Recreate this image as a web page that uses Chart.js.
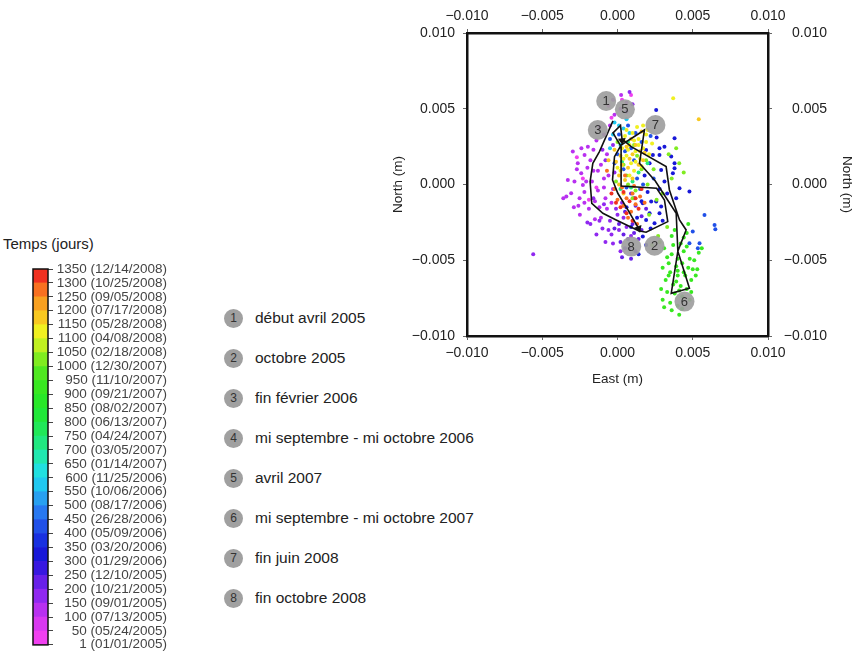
<!DOCTYPE html>
<html>
<head>
<meta charset="utf-8">
<script src="https://cdn.jsdelivr.net/npm/chart.js@4.4.1/dist/chart.umd.min.js"></script>
<style>
  body { margin: 0; width: 856px; height: 656px; background: #fff; position: relative; overflow: hidden;
         font-family: 'Liberation Sans', Arial, sans-serif; }
  canvas { position: absolute; }
  #cbTitle { position: absolute; left: 3px; top: 235px; font-size: 15px; color: #222; white-space: nowrap; }
  .leg { position: absolute; left: 224px; height: 20px; display: flex; align-items: center;
         font-size: 15.5px; color: #222; white-space: nowrap; }
  .leg .num { width: 19px; height: 19px; border-radius: 50%; background: #a0a0a0; color: #333;
              font-size: 12px; display: flex; align-items: center; justify-content: center; margin-right: 12px; }
</style>
</head>
<body>
<div id="cbTitle">Temps (jours)</div>
<canvas id="cb" width="167" height="400" style="left:0;top:255px;width:167px;height:400px"></canvas>
<canvas id="gps" width="476" height="400" style="left:380px;top:0;width:476px;height:400px"></canvas>
<div id="legend"></div>
<script>
// ---- colour scale (days since 01/01/2005) ----
const bandEdges = [0, 50, 100, 150, 200, 250, 300, 350, 400, 450, 500, 550, 600, 650, 700,
                   750, 800, 850, 900, 950, 1000, 1050, 1100, 1150, 1200, 1250, 1300, 1350];
const bandColors = ['#f040f0', '#d838f0', '#b830f0', '#9028f0', '#6820e8', '#3818e0', '#1818d8',
                    '#1830e0', '#2050e8', '#2878f0', '#28a0f0', '#20c8f0', '#20e0e0', '#20e8b0',
                    '#20e880', '#20e858', '#20e838', '#28e828', '#38e820', '#50e820', '#80ec20',
                    '#c0f020', '#f0f020', '#f8c820', '#f8a020', '#f87020', '#f03020'];
const tickDays = [1, 50, 100, 150, 200, 250, 300, 350, 400, 450, 500, 550, 600, 650, 700,
                  750, 800, 850, 900, 950, 1000, 1050, 1100, 1150, 1200, 1250, 1300, 1350];
const tickDates = ['01/01/2005', '05/24/2005', '07/13/2005', '09/01/2005', '10/21/2005', '12/10/2005',
                   '01/29/2006', '03/20/2006', '05/09/2006', '26/28/2006', '08/17/2006', '10/06/2006',
                   '11/25/2006', '01/14/2007', '03/05/2007', '04/24/2007', '06/13/2007', '08/02/2007',
                   '09/21/2007', '11/10/2007', '12/30/2007', '02/18/2008', '04/08/2008', '05/28/2008',
                   '07/17/2008', '09/05/2008', '10/25/2008', '12/14/2008'];

// ---- daily GPS positions (East, North in mm), grouped by day ----
const dotDays = [25, 120, 190, 230, 320, 420, 580, 700, 900, 1000, 1120, 1190, 1280, 1330];
const d025 = [[-0.6,5.2],[0.3,5.6],[-2.7,1.8],[-1.9,-1.0],[-0.4,4.4],[-2.3,0.4],[0.9,5.9],[-1.4,-0.2]];
const d120 = [[-2.97,2.17],[-2.64,1.40],[-2.19,1.95],[-1.97,2.5],[-2.41,0.74],[-2.08,0.19],[-2.86,0.19],
  [-2.3,-0.03],[-3.08,-0.58],[-2.52,-0.91],[-3.4,-0.8],[-2.9,-1.5],[-2.5,-2.0],[-1.9,-1.6],[-1.5,-2.3],
  [-1.2,-1.5],[-0.8,-0.9],[-1.3,-0.4],[-1.6,0.9],[-1.1,1.3],[-0.7,2.0],[-1.4,2.9],[-0.9,3.3],[-0.5,3.9],
  [-0.2,4.6],[0.2,5.0],[0.6,5.4],[0.24,5.9],[-0.3,5.6],[-1.2,3.8],[-2.7,1.0],[-3.3,0.3],[-2.2,-1.2],
  [-3.6,-0.9],[-1.7,0.2],[-0.9,-0.2],[-2.4,2.4],[-0.6,0.6],[-1.8,1.6],[-2.2,-0.5],[-1.5,-1.1],
  [-0.4,-1.2],[-0.9,0.4],[-1.1,-2.2],[-2.6,-1.4],[-0.3,-0.3],[-1.6,2.3],[-2.0,1.1],[-0.7,-1.6],[-1.3,0.9]];
const d190 = [[-2.0,-2.5],[-1.4,-3.3],[-0.8,-3.8],[-1.8,-2.6],[-1.0,-2.9],[-0.4,-3.3],[0.1,-3.0],[-5.6,-4.6],
  [-0.3,2.6],[-1.0,2.3],[-0.1,-1.6],[0.4,-2.2],[-0.5,-2.4],[0.3,-1.2],[-0.2,0.8],[0.6,4.8],[1.0,5.3],
  [0.8,6.1],[-0.8,1.6],[-1.6,-0.9],[-0.6,-3.0],[0.0,-2.0],[-1.2,-2.4],[0.6,-2.8],[-0.3,-3.9],[0.2,-4.4],
  [0.9,-3.4],[-0.9,-1.3]];
const d230 = [[0.5,-4.2],[0.3,-4.8],[0.9,-4.9],[1.2,-4.4],[0.7,-3.6],[1.0,-2.6],[0.5,-1.8],[1.2,-1.4],
  [0.9,-0.6],[-0.2,-2.9],[1.6,-2.1],[0.2,-3.8],[1.4,-3.6],[0.8,-4.2],[1.6,-3.0],[0.4,-3.3],[1.9,-1.6],
  [1.1,-3.2],[0.1,-2.6]];
const d320 = [[2.57,4.92],[3.79,3.05],[3.12,2.5],[2.79,2.39],[1.9,2.28],[2.79,1.95],[2.35,1.95],[3.57,1.84],
  [3.79,1.4],[3.68,0.74],[3.79,1.07],[2.9,0.96],[2.13,1.4],[3.12,0.19],[4.12,-0.25],[4.78,-0.47],
  [2.24,-1.13],[2.57,-1.13],[3.9,-0.91],[1.68,-1.24],[2.13,-1.9],[2.79,-1.9],[1.9,-2.34],[2.46,-2.56],
  [1.68,-3.44],[1.9,-3.99],[2.9,-1.46],[0.9,-2.8],[1.3,-2.2],[1.6,-1.1],[0.6,-1.5],[2.2,-2.9],[1.1,-0.9],
  [2.0,-0.5],[2.8,-0.3],[1.4,-4.6],[1.8,0.6],[3.3,-0.6],[2.6,3.1],[3.0,-2.4]];
const d420 = [[5.78,-2.01],[6.45,-2.67],[6.5,-2.95],[5.0,-3.11],[4.78,-3.88],[5.45,-3.88],[5.34,-4.21],
  [1.2,3.4],[1.6,2.8],[0.5,2.2],[1.1,1.6],[2.4,0.4],[1.5,-0.3],[0.4,1.0],[1.3,0.4],[0.1,3.3],[0.7,3.9],
  [2.2,3.2],[-0.5,3.0],[0.0,2.0],[1.7,0.0],[0.9,2.4],[-0.2,1.4],[0.6,-0.2]];
const d580 = [[0.1,3.9],[0.4,3.7],[-0.3,3.3],[0.6,4.3],[-0.2,4.1],[0.8,3.4],[0.2,2.6],[-0.5,2.4]];
const d700 = [[0.7,2.8],[1.0,0.2],[0.3,1.5],[1.4,0.8],[0.2,-0.3],[2.0,1.4],[0.9,-0.2]];
const d900 = [[3.6,-4.6],[4.0,-4.9],[4.4,-4.4],[4.8,-4.9],[3.4,-5.2],[3.9,-5.4],[4.3,-5.2],[4.7,-5.5],
  [5.1,-5.0],[3.5,-5.8],[4.0,-6.0],[4.5,-6.0],[4.9,-6.3],[3.2,-6.3],[3.7,-6.6],[4.2,-6.7],[4.6,-6.9],
  [5.2,-6.0],[3.3,-7.1],[3.8,-7.2],[4.3,-7.4],[3.0,-7.6],[3.5,-7.8],[4.0,-8.0],[4.1,-8.6],[3.1,-8.1],
  [4.8,-7.6],[5.3,-5.6],[3.0,-5.5],[4.2,-3.9],[4.6,-3.2],[5.4,-4.5],[3.6,-3.4],[4.0,-5.7],[3.7,-4.0],
  [4.4,-5.8],[3.9,-6.4],[4.1,-7.0],[3.4,-6.0],[4.6,-4.1],[3.3,-4.8],[5.0,-5.6],[4.9,-7.1],[3.6,-8.3],
  [2.9,-6.9],[4.3,-8.2],[3.8,-3.0],[4.7,-2.6],[3.1,-4.2],[5.6,-4.2],[4.4,-3.5]];
const d1000 = [[3.4,2.0],[3.9,2.4],[4.1,1.4],[3.0,-0.6],[2.7,-3.4],[2.3,-4.0],[1.1,2.6],[0.6,0.6],
  [1.6,1.0],[-0.1,0.2],[2.0,0.0],[1.2,-0.4],[3.3,-2.8],[2.8,-3.8],[0.4,1.3],[1.9,1.6],[1.0,-0.9],
  [0.0,2.8],[2.4,1.0],[1.3,1.9],[0.7,0.0],[2.6,-1.0],[3.6,0.4],[4.4,0.8],[2.1,-2.0]];
const d1120 = [[1.0,3.4],[1.4,3.0],[0.8,2.6],[1.2,2.2],[0.6,1.9],[1.7,2.4],[1.9,3.3],[0.9,1.4],[1.5,1.7],
  [0.3,2.4],[2.1,2.0],[1.1,0.9],[0.5,3.2],[1.3,3.8],[2.3,2.7],[0.0,1.1],[3.7,5.7],[0.7,2.3],[1.1,2.9],
  [1.6,1.2],[0.4,1.7],[1.9,2.8],[0.8,0.6],[1.4,2.6],[0.2,0.9],[1.2,1.5],[2.0,3.6],[1.7,3.9],[0.6,3.6]];
const d1190 = [[0.4,2.9],[1.0,2.0],[1.6,3.5],[0.2,1.9],[0.7,1.1],[1.4,1.3],[-0.2,2.3],[0.9,3.0],[1.8,2.1],
  [0.5,0.3],[5.4,4.3],[-0.6,1.6],[0.1,0.6],[0.8,1.7],[1.2,2.6],[0.3,1.3],[1.5,2.2],[-0.1,1.5],[0.6,2.5],
  [1.0,0.4],[0.1,0.0],[1.7,1.6],[0.4,-0.6]];
const d1280 = [[0.6,-0.9],[1.2,-1.3],[0.3,-0.2],[0.9,-1.8],[1.5,-0.8],[0.0,-1.0],[1.1,-0.1],[0.7,-2.2],
  [-0.7,0.9],[1.3,-2.6],[0.4,-1.4],[1.0,-0.6],[-0.2,-0.3],[1.8,-1.2],[0.5,0.6]];
const d1330 = [[0.8,-1.1],[1.4,-1.6],[0.4,-0.5],[1.0,-2.4],[0.2,-1.5],[1.6,-0.3],[-0.4,-0.6],[0.6,-1.9],
  [1.2,-0.9],[-0.1,-1.2]];
const dotSets = [d025, d120, d190, d230, d320, d420, d580, d700, d900, d1000, d1120, d1190, d1280, d1330];

// ---- smoothed trajectory (mm) ----
const pathEast  = [-0.3, -1.2, -1.64, -1.82, -1.71, -0.97, -0.09, 1.4, 1.9, 3.34, 3.12, 2.6, 0.24, 0.24,
                   -0.3, 0.2, 0.3, 0.91, 3.23, 3.45, 4.12, 4.56, 4.01, 3.57, 4.78, 4.01, 3.9, 2.5, 1.46,
                   1.79, 0.24, -0.2, -0.33, 0.02, 0.69, 1.4];
const pathNorth = [4.2, 2.17, 1.40, 0.19, -1.24, -1.9, -2.34, -3.05, -3.15, -2.45, -1.02, -0.25, -0.1, 2.5,
                   3.4, 3.9, 3.0, 2.5, 1.18, -0.36, -2.34, -3.0, -4.4, -7.18, -6.85, -4.4, -1.9, 0.25, 1.4,
                   3.6, 2.6, 1.84, 0.3, -0.58, -1.68, -2.9];
const arrowEast  = [0.3, 1.4];
const arrowNorth = [2.9, -2.9];
const arrowAngle = [175, 160];

// ---- numbered events ----
const markerEast  = [-0.75, 2.46, -1.31, 0.49, 4.45, 2.52, 0.91];
const markerNorth = [5.51, -4.04, 3.60, 4.96, -7.73, 3.93, -4.10];
const markerText  = ['1', '2', '3', '5', '6', '7', '8'];
const legendNumbers = ['1', '2', '3', '4', '5', '6', '7', '8'];
const legendLabels = ['début avril 2005', 'octobre 2005', 'fin février 2006', 'mi septembre - mi octobre 2006',
                      'avril 2007', 'mi septembre - mi octobre 2007', 'fin juin 2008', 'fin octobre 2008'];

const FONT = "'Liberation Sans', Arial, sans-serif";

function colorFor(day) {
  for (let i = 0; i < bandColors.length; i++) {
    if (day >= bandEdges[i] && day < bandEdges[i + 1]) return bandColors[i];
  }
  return bandColors[bandColors.length - 1];
}

// ---------- colour bar ----------
const barFrame = {
  id: 'barFrame',
  afterDatasetsDraw(chart) {
    const { ctx, chartArea, scales } = chart;
    const top = scales.y.getPixelForValue(bandEdges[bandEdges.length - 1]);
    const bottom = scales.y.getPixelForValue(bandEdges[0]);
    ctx.save();
    ctx.strokeStyle = '#111';
    ctx.lineWidth = 1.5;
    ctx.strokeRect(chartArea.left, top, chartArea.right - chartArea.left, bottom - top);
    ctx.restore();
  }
};

new Chart(document.getElementById('cb'), {
  type: 'bar',
  data: {
    labels: [''],
    datasets: bandColors.map((c, i) => ({
      data: [[bandEdges[i], bandEdges[i + 1]]],
      backgroundColor: c,
      borderWidth: 0,
      barPercentage: 1,
      categoryPercentage: 1,
      grouped: false
    }))
  },
  options: {
    responsive: false, animation: false, devicePixelRatio: 1,
    layout: { padding: { left: 33, top: 14, bottom: 9, right: 0 } },
    plugins: { legend: { display: false }, tooltip: { enabled: false } },
    scales: {
      x: { display: false },
      y: {
        position: 'right', min: 0, max: 1350,
        afterFit(s) { s.width = 119; },
        afterBuildTicks(s) { s.ticks = tickDays.map(v => ({ value: v })); },
        ticks: {
          autoSkip: false, crossAlign: 'far', padding: 2, color: '#444',
          font: { family: FONT, size: 13.5 },
          callback: (v, i) => tickDays[i] + ' (' + tickDates[i] + ')'
        },
        grid: { drawOnChartArea: false, tickLength: 5, color: '#444' },
        border: { display: false }
      }
    }
  },
  plugins: [barFrame]
});

// ---------- GPS displacement plot ----------
const fmt = v => (v < -1e-9 ? '\u2212' : '') + Math.abs(v).toFixed(3);
const tickFont = { family: FONT, size: 14 };
const titleFont = { family: FONT, size: 13.5 };
const frame = { display: true, color: '#111', width: 2.5 };
const outerTicks = { drawOnChartArea: false, tickLength: 4, color: '#666' };

const datasets = dotSets.map((pts, i) => ({
  type: 'scatter',
  data: pts.map(p => ({ x: p[0] / 1000, y: p[1] / 1000 })),
  backgroundColor: colorFor(dotDays[i]),
  borderWidth: 0,
  pointRadius: 2,
  order: 100 - i
}));
datasets.push({
  type: 'scatter',
  data: pathEast.map((e, i) => ({ x: e / 1000, y: pathNorth[i] / 1000 })),
  showLine: true, borderColor: '#111', borderWidth: 1.6, pointRadius: 0, tension: 0,
  order: 3
});
datasets.push({
  type: 'scatter',
  data: arrowEast.map((e, i) => ({ x: e / 1000, y: arrowNorth[i] / 1000 })),
  pointStyle: 'triangle', rotation: arrowAngle, pointRadius: 4.5,
  backgroundColor: '#111', borderColor: '#111', borderWidth: 0,
  order: 2
});

const markers = {
  id: 'markers',
  afterDatasetsDraw(chart) {
    const { ctx, scales } = chart;
    ctx.save();
    markerEast.forEach((e, i) => {
      const px = scales.x.getPixelForValue(e / 1000);
      const py = scales.y.getPixelForValue(markerNorth[i] / 1000);
      ctx.beginPath();
      ctx.arc(px, py, 10, 0, Math.PI * 2);
      ctx.fillStyle = 'rgba(158,158,158,0.92)';
      ctx.fill();
      ctx.fillStyle = '#333';
      ctx.font = '13px ' + FONT;
      ctx.textAlign = 'center';
      ctx.textBaseline = 'middle';
      ctx.fillText(markerText[i], px, py + 0.5);
    });
    ctx.restore();
  }
};

const linAxis = (pos, extra) => Object.assign({
  type: 'linear', position: pos, min: -0.01, max: 0.01,
  ticks: { stepSize: 0.005, callback: fmt, font: tickFont, color: '#222' },
  grid: outerTicks, border: frame
}, extra);

new Chart(document.getElementById('gps'), {
  data: { datasets },
  options: {
    responsive: false, animation: false, devicePixelRatio: 1,
    layout: { padding: 0 },
    plugins: { legend: { display: false }, tooltip: { enabled: false } },
    scales: {
      x: linAxis('bottom', {
        afterFit(s) { s.height = 64; },
        ticks: { stepSize: 0.005, callback: fmt, font: tickFont, color: '#222', padding: 5 },
        title: { display: true, text: 'East (m)', font: titleFont, color: '#222', padding: { bottom: 13 } }
      }),
      x2: linAxis('top', {
        afterFit(s) { s.height = 33; },
        ticks: { stepSize: 0.005, callback: fmt, font: tickFont, color: '#222', padding: 4 }
      }),
      y: linAxis('left', {
        afterFit(s) { s.width = 87; },
        ticks: { stepSize: 0.005, callback: fmt, font: tickFont, color: '#222', padding: 8 },
        title: { display: true, text: 'North (m)', font: titleFont, color: '#222', padding: { top: 10 } }
      }),
      y2: linAxis('right', {
        weight: 0,
        afterFit(s) { s.width = 59; },
        ticks: { stepSize: 0.005, callback: fmt, font: tickFont, color: '#222', crossAlign: 'far' }
      }),
      y3: {
        type: 'linear', position: 'right', weight: 1, min: -0.01, max: 0.01,
        afterFit(s) { s.width = 29; },
        ticks: { display: false }, grid: { display: false }, border: { display: false },
        title: { display: true, text: 'North (m)', font: titleFont, color: '#222', padding: { top: 1 } }
      }
    }
  },
  plugins: [markers]
});

// ---------- event legend ----------
const legend = document.getElementById('legend');
legendLabels.forEach((txt, i) => {
  const row = document.createElement('div');
  row.className = 'leg';
  row.style.top = (308 + 40 * i) + 'px';
  const n = document.createElement('span');
  n.className = 'num';
  n.textContent = legendNumbers[i];
  const t = document.createElement('span');
  t.textContent = txt;
  row.appendChild(n);
  row.appendChild(t);
  legend.appendChild(row);
});
</script>
</body>
</html>
